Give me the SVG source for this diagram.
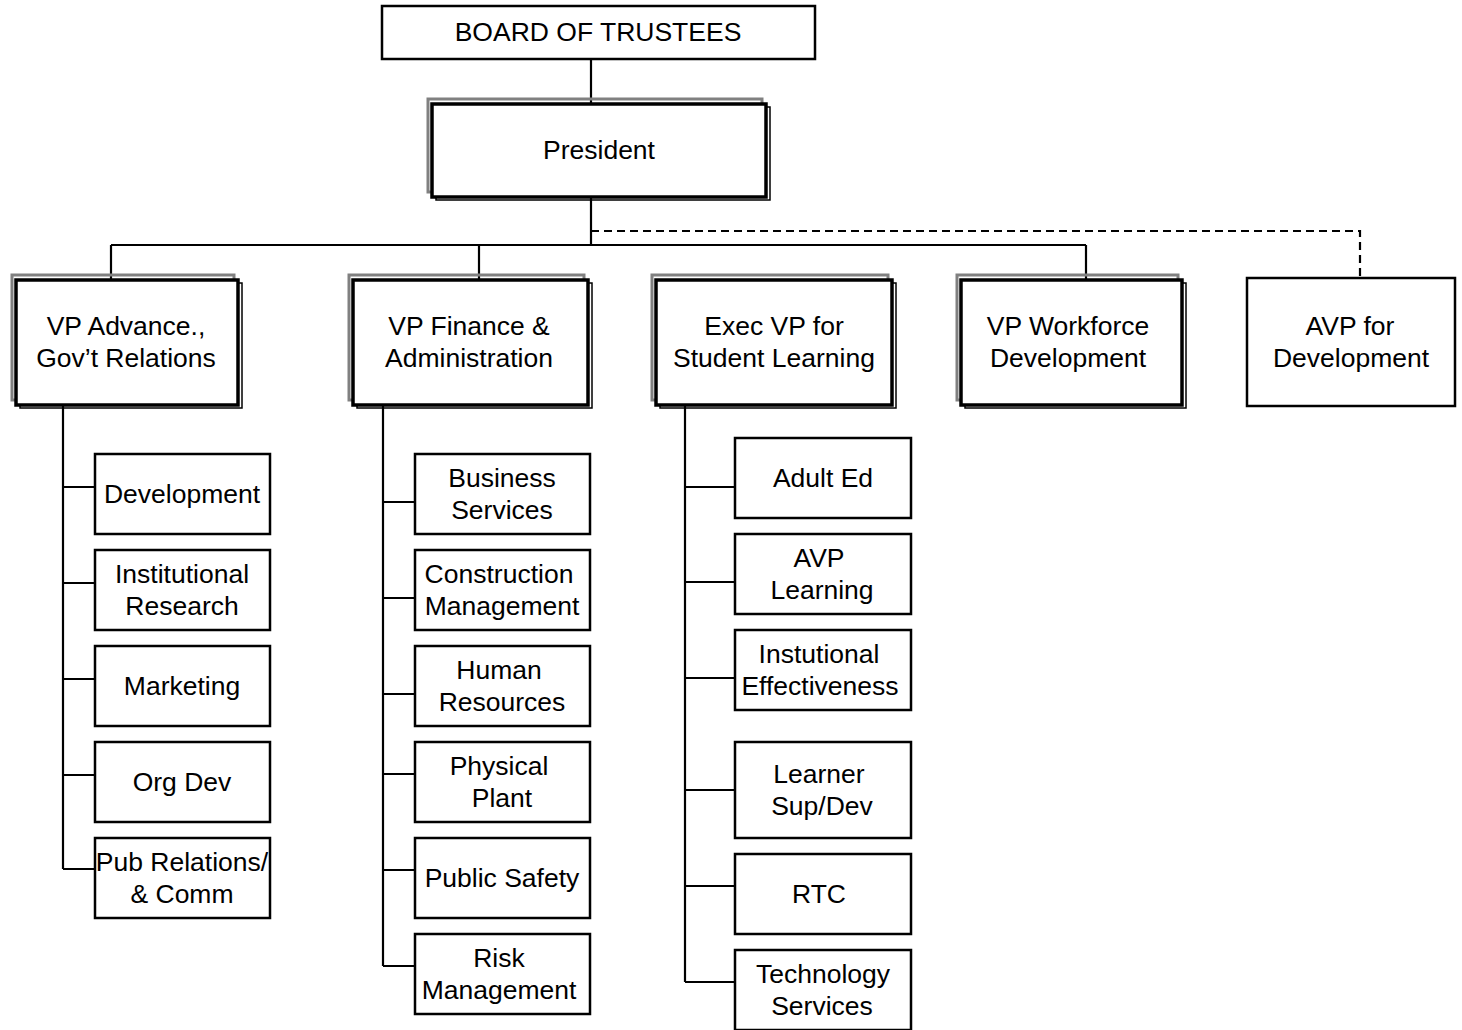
<svg xmlns="http://www.w3.org/2000/svg" width="1462" height="1030" viewBox="0 0 1462 1030">
<style>
text{font-family:"Liberation Sans",Arial,sans-serif;font-size:26.5px;fill:#000;text-anchor:middle;dominant-baseline:central}
.box{fill:#fff;stroke:#000;stroke-width:2.5}
.gray{fill:none;stroke:#808080;stroke-width:3}
.shad{fill:none;stroke:#000;stroke-width:1.5}
.main{fill:#fff;stroke:#000;stroke-width:3.5}
.ln{fill:none;stroke:#000;stroke-width:2.2}
.dash{fill:none;stroke:#000;stroke-width:2.2;stroke-dasharray:8 5}
</style>
<g id="connectors">
<path class="ln" d="M591 59V104M591 197V245M111 245H1086M111 245V280M479 245V280M1086 245V280"/>
<path class="dash" d="M591 231H1360V278"/>
<path class="ln" d="M63 405V869M63 487H95M63 583H95M63 679H95M63 775H95M63 869H95"/>
<path class="ln" d="M383 405V966M383 502H415M383 598H415M383 694H415M383 774H415M383 870H415M383 966H415"/>
<path class="ln" d="M685 405V982M685 487H735M685 582H735M685 678H735M685 790H735M685 886H735M685 982H735"/>
</g>
<g id="board"><rect class="box" x="382" y="6" width="433" height="53"/><text x="598" y="32">BOARD OF TRUSTEES</text></g>
<g id="president"><rect class="gray" x="428" y="99" width="334" height="93"/><rect class="shad" x="436" y="107" width="334" height="93"/><rect class="main" x="432" y="104" width="334" height="93"/><text x="599" y="150">President</text></g>
<g id="vp-advance"><rect class="gray" x="12" y="275" width="222" height="125"/><rect class="shad" x="20" y="283" width="222" height="125"/><rect class="main" x="16" y="280" width="222" height="125"/><text x="126" y="326">VP Advance.,</text><text x="126" y="358">Gov’t Relations</text></g>
<g id="vp-finance"><rect class="gray" x="349" y="275" width="235" height="125"/><rect class="shad" x="357" y="283" width="235" height="125"/><rect class="main" x="353" y="280" width="235" height="125"/><text x="469" y="326">VP Finance &amp;</text><text x="469" y="358">Administration</text></g>
<g id="exec-vp"><rect class="gray" x="652" y="275" width="236" height="125"/><rect class="shad" x="660" y="283" width="236" height="125"/><rect class="main" x="656" y="280" width="236" height="125"/><text x="774" y="326">Exec VP for</text><text x="774" y="358">Student Learning</text></g>
<g id="vp-workforce"><rect class="gray" x="957" y="275" width="221" height="125"/><rect class="shad" x="965" y="283" width="221" height="125"/><rect class="main" x="961" y="280" width="221" height="125"/><text x="1068" y="326">VP Workforce</text><text x="1068" y="358">Development</text></g>
<g id="avp-dev"><rect class="box" x="1247" y="278" width="208" height="128"/><text x="1350" y="326">AVP for</text><text x="1351" y="358">Development</text></g>

<g id="development"><rect class="box" x="95" y="454" width="175" height="80"/><text x="182" y="494">Development</text></g>
<g id="inst-research"><rect class="box" x="95" y="550" width="175" height="80"/><text x="182" y="574">Institutional</text><text x="182" y="606">Research</text></g>
<g id="marketing"><rect class="box" x="95" y="646" width="175" height="80"/><text x="182" y="686">Marketing</text></g>
<g id="org-dev"><rect class="box" x="95" y="742" width="175" height="80"/><text x="182" y="782">Org Dev</text></g>
<g id="pub-rel"><rect class="box" x="95" y="838" width="175" height="80"/><text x="182" y="862">Pub Relations/</text><text x="182" y="894">&amp; Comm</text></g>

<g id="business"><rect class="box" x="415" y="454" width="175" height="80"/><text x="502" y="478">Business</text><text x="502" y="510">Services</text></g>
<g id="construction"><rect class="box" x="415" y="550" width="175" height="80"/><text x="499" y="574">Construction</text><text x="502" y="606">Management</text></g>
<g id="hr"><rect class="box" x="415" y="646" width="175" height="80"/><text x="499" y="670">Human</text><text x="502" y="702">Resources</text></g>
<g id="plant"><rect class="box" x="415" y="742" width="175" height="80"/><text x="499" y="766">Physical</text><text x="502" y="798">Plant</text></g>
<g id="safety"><rect class="box" x="415" y="838" width="175" height="80"/><text x="502" y="878">Public Safety</text></g>
<g id="risk"><rect class="box" x="415" y="934" width="175" height="80"/><text x="499" y="958">Risk</text><text x="499" y="990">Management</text></g>

<g id="adult-ed"><rect class="box" x="735" y="438" width="176" height="80"/><text x="823" y="478">Adult Ed</text></g>
<g id="avp-learning"><rect class="box" x="735" y="534" width="176" height="80"/><text x="819" y="558">AVP</text><text x="822" y="590">Learning</text></g>
<g id="inst-eff"><rect class="box" x="735" y="630" width="176" height="80"/><text x="819" y="654">Instutional</text><text x="820" y="686">Effectiveness</text></g>
<g id="learner"><rect class="box" x="735" y="742" width="176" height="96"/><text x="819" y="774">Learner</text><text x="822" y="806">Sup/Dev</text></g>
<g id="rtc"><rect class="box" x="735" y="854" width="176" height="80"/><text x="819" y="894">RTC</text></g>
<g id="tech"><rect class="box" x="735" y="950" width="176" height="80"/><text x="823" y="974">Technology</text><text x="822" y="1006">Services</text></g>
</svg>
